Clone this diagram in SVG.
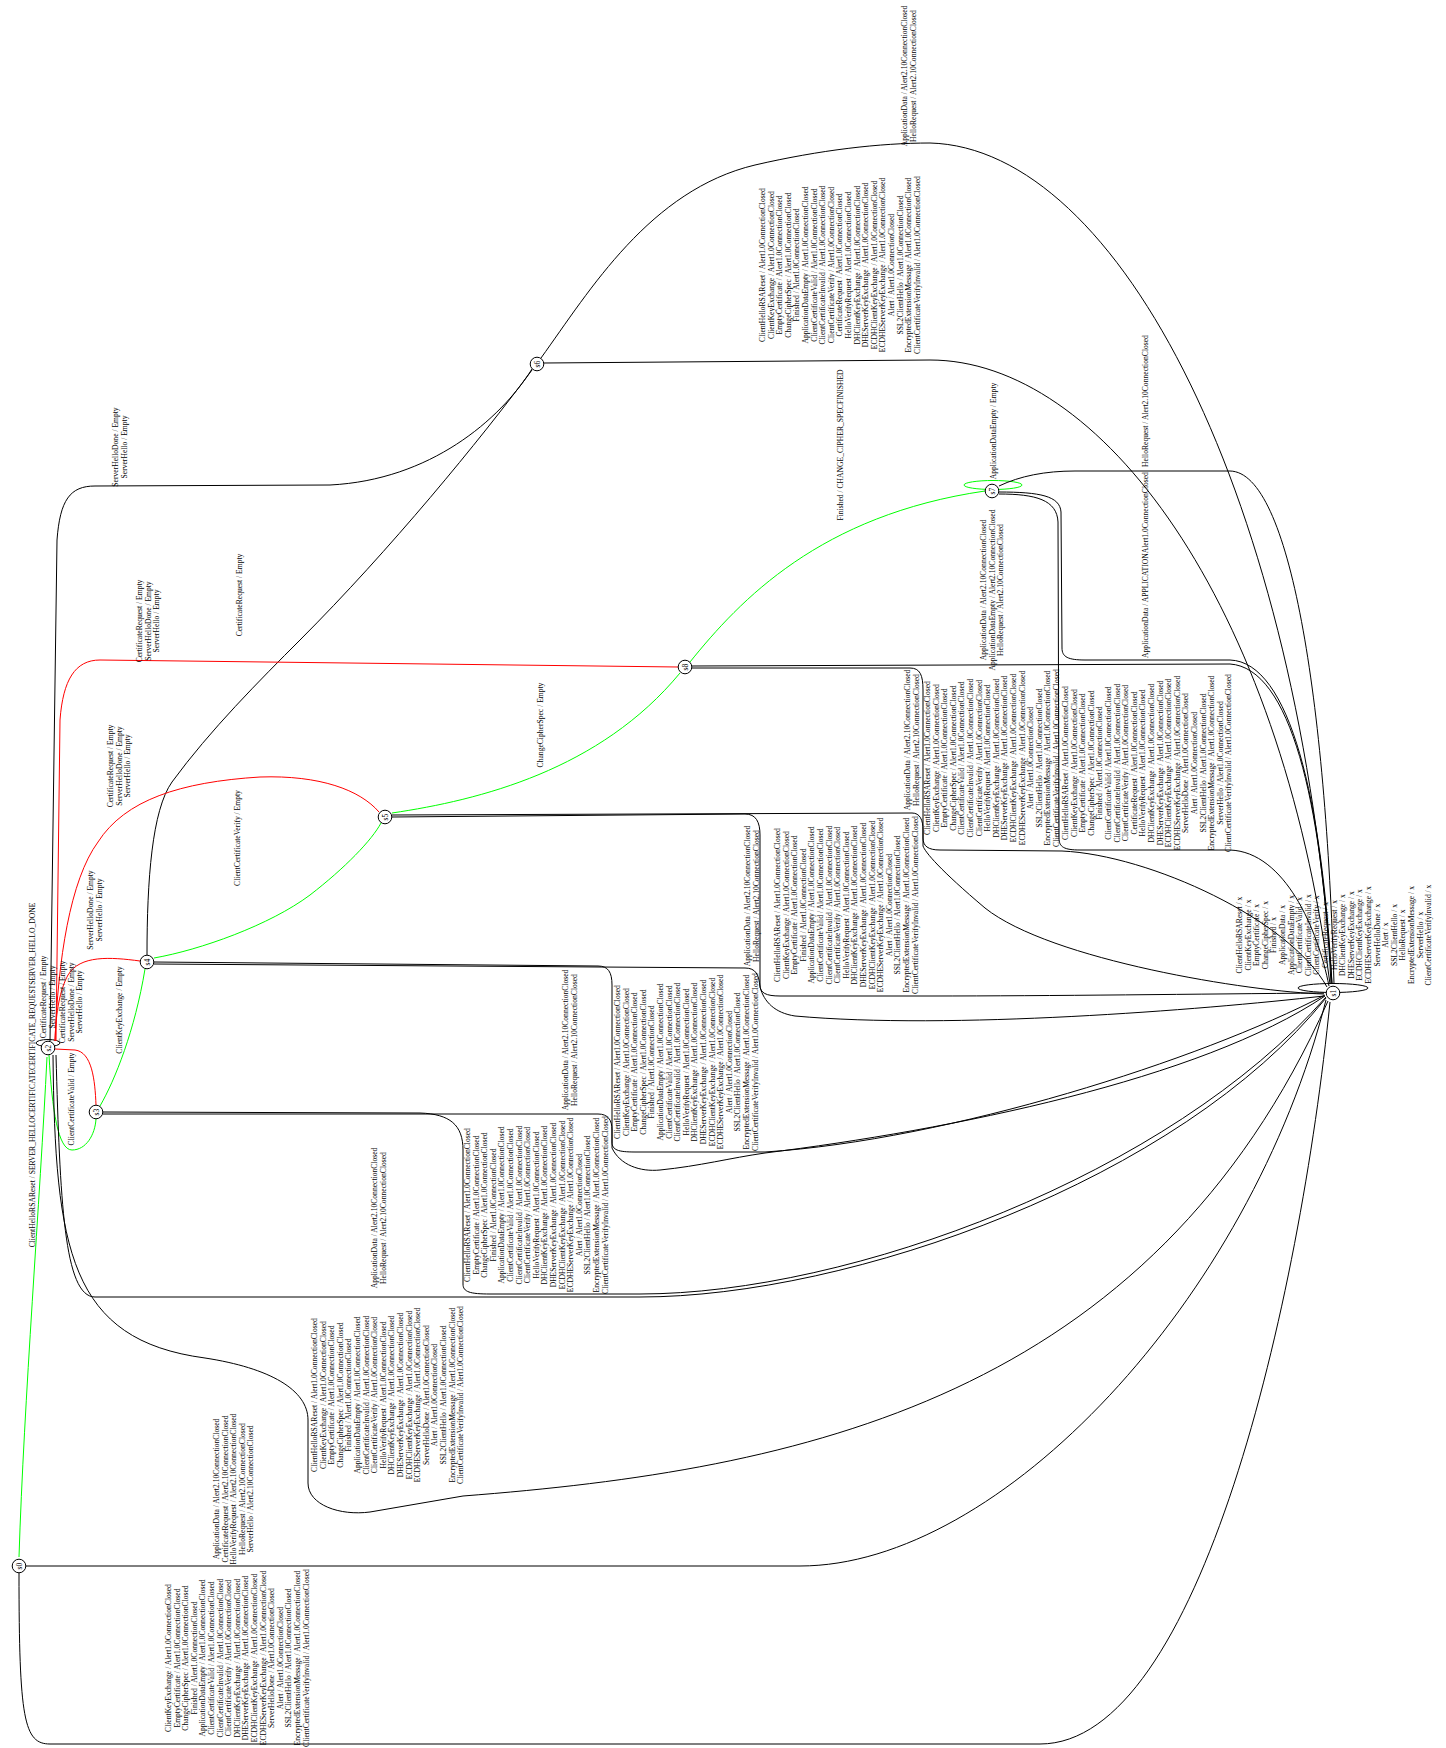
<svg xmlns="http://www.w3.org/2000/svg" width="1446" height="1748" viewBox="0 0 1446 1748">
<style>
.e{fill:none;stroke:#000;stroke-width:1}
.g{stroke:#00ff00}
.r{stroke:#ff0000}
.t{font-family:"Liberation Serif","Times New Roman",serif;font-size:7.6px;text-anchor:middle;fill:#000}
.n circle{fill:#fff;stroke:#000;stroke-width:1}
</style>
<rect width="1446" height="1748" fill="#fff"/>
<g id="edges">
<!-- s0 -->
<path class="e g" d="M19,1557 C24,1400 40,1200 47,1057"/>
<path class="e" d="M26,1566 L800,1566 C1000,1566 1250,1300 1326,1000"/>
<path class="e" d="M19,1573 C19,1720 24,1744 50,1744 L1040,1744 C1200,1744 1300,1300 1330,1002"/>
<!-- s2 -->
<ellipse class="e" cx="48" cy="1043" rx="12" ry="3.5"/>
<path class="e g" d="M49,1055 C52,1110 58,1150 72,1150 C86,1150 95,1135 96,1119"/>
<path class="e" d="M56,1055 C60,1200 64,1297 95,1297 L640,1297 C850,1297 1180,1180 1326,998"/>
<path class="e" d="M53,1055 C55,1250 70,1340 205,1358 C270,1368 308,1390 308,1420 L308,1483 C308,1505 340,1516 370,1512 L463,1496 C800,1470 1150,1400 1328,1001"/>
<!-- s3 -->
<path class="e r" d="M96,1105 C95,1080 92,1052 75,1050 L55,1049"/>
<path class="e g" d="M100,1106 C115,1080 135,1030 145,969"/>
<path class="e" d="M103,1112 L420,1113 C450,1114 463,1125 463,1150 L463,1284 C463,1292 470,1294 490,1294 L640,1294 C850,1294 1170,1175 1326,997"/>
<path class="e" d="M103,1114 L598,1114 C608,1114 612,1120 612,1130 L612,1148 C620,1165 640,1172 660,1170 C700,1166 730,1158 765,1153 C950,1130 1200,1080 1325,996"/>
<!-- s4 -->
<path class="e r" d="M140,961 C110,957 80,955 68,975 C60,990 56,1010 55,1041"/>
<path class="e g" d="M154,958 C200,950 270,925 310,895 C345,868 372,840 381,823"/>
<path class="e" d="M147,955 C147,880 152,810 172,782 C210,730 260,680 300,640 C390,550 480,440 532,370"/>
<path class="e" d="M154,962 L598,966 C608,966 612,972 612,985 L612,1142 C612,1150 618,1152 635,1152 L765,1152 C950,1140 1200,1060 1325,995"/>
<path class="e" d="M154,964 L745,968 C756,968 759,975 760,987 C764,1002 775,1013 795,1016 C950,1030 1200,1010 1324,996"/>
<!-- s5 -->
<path class="e r" d="M379,812 C360,790 320,775 260,777 C180,782 125,800 98,842 C70,880 58,960 55,1041"/>
<path class="e g" d="M392,813 C480,800 600,770 680,673"/>
<path class="e" d="M392,817 L745,814 C756,814 760,822 760,835 L760,985 C760,993 766,996 780,996 L930,996 C1050,996 1200,994 1324,993"/>
<path class="e" d="M392,815 L912,813 C920,813 923,820 923,830 L923,846 C925,852 940,870 985,908 C1050,960 1250,992 1324,994"/>
<!-- s8 -->
<path class="e r" d="M678,667 L100,660 C75,660 63,680 60,720 L56,1041"/>
<path class="e g" d="M690,662 C740,600 820,515 985,491"/>
<path class="e" d="M692,668 L910,668 C920,668 923,675 923,690 L923,838 C923,846 928,850 940,850 L1062,851 C1150,855 1290,920 1327,987"/>
<path class="e" d="M692,666 L1230,664 C1290,668 1322,800 1331,984"/>
<!-- s7 -->
<ellipse class="e g" cx="993" cy="485" rx="29" ry="4.5"/>
<path class="e" d="M999,486 C1020,476 1045,471 1075,471 L1230,471 C1290,472 1326,700 1334,984"/>
<path class="e" d="M999,492 C1040,492 1060,496 1061,512 L1062,648 C1062,657 1068,660 1085,660 L1230,660 C1290,662 1322,800 1332,984"/>
<path class="e" d="M999,494 C1036,494 1057,500 1058,522 L1059,838 C1059,847 1064,850 1080,850 L1230,850 C1285,852 1318,930 1329,986"/>
<!-- s6 -->
<path class="e" d="M532,369 C500,420 430,480 330,485 L95,486 C70,486 60,500 57,540 L50,1041"/>
<path class="e" d="M544,363 L930,360 C1100,360 1280,600 1330,984"/>
<path class="e" d="M541,358 C590,290 650,190 755,165 C820,150 880,143 930,143 C1120,148 1300,500 1332,984"/>
<!-- s1 -->
<ellipse class="e" cx="1333" cy="988" rx="35" ry="4.5"/>
</g>
<g id="labels">
<text class="t" transform="translate(35,1075) rotate(-90)">ClientHelloRSAReset / SERVER_HELLOCERTIFICATECERTIFICATE_REQUESTSERVER_HELLO_DONE</text>
<text class="t" transform="translate(219,1489) rotate(-90)"><tspan x="0">ApplicationData / Alert2.10ConnectionClosed</tspan><tspan x="0" dy="8.6">CertificateRequest / Alert2.10ConnectionClosed</tspan><tspan x="0" dy="8.6">HelloVerifyRequest / Alert2.10ConnectionClosed</tspan><tspan x="0" dy="8.6">HelloRequest / Alert2.10ConnectionClosed</tspan><tspan x="0" dy="8.6">ServerHello / Alert2.10ConnectionClosed</tspan></text>
<text class="t" transform="translate(171,1658) rotate(-90)"><tspan x="0">ClientKeyExchange / Alert1.0ConnectionClosed</tspan><tspan x="0" dy="8.6">EmptyCertificate / Alert1.0ConnectionClosed</tspan><tspan x="0" dy="8.6">ChangeCipherSpec / Alert1.0ConnectionClosed</tspan><tspan x="0" dy="8.6">Finished / Alert1.0ConnectionClosed</tspan><tspan x="0" dy="8.6">ApplicationDataEmpty / Alert1.0ConnectionClosed</tspan><tspan x="0" dy="8.6">ClientCertificateValid / Alert1.0ConnectionClosed</tspan><tspan x="0" dy="8.6">ClientCertificateInvalid / Alert1.0ConnectionClosed</tspan><tspan x="0" dy="8.6">ClientCertificateVerify / Alert1.0ConnectionClosed</tspan><tspan x="0" dy="8.6">DHClientKeyExchange / Alert1.0ConnectionClosed</tspan><tspan x="0" dy="8.6">DHEServerKeyExchange / Alert1.0ConnectionClosed</tspan><tspan x="0" dy="8.6">ECDHClientKeyExchange / Alert1.0ConnectionClosed</tspan><tspan x="0" dy="8.6">ECDHEServerKeyExchange / Alert1.0ConnectionClosed</tspan><tspan x="0" dy="8.6">ServerHelloDone / Alert1.0ConnectionClosed</tspan><tspan x="0" dy="8.6">Alert / Alert1.0ConnectionClosed</tspan><tspan x="0" dy="8.6">SSL2ClientHello / Alert1.0ConnectionClosed</tspan><tspan x="0" dy="8.6">EncryptedExtensionMessage / Alert1.0ConnectionClosed</tspan><tspan x="0" dy="8.6">ClientCertificateVerifyInvalid / Alert1.0ConnectionClosed</tspan></text>
<text class="t" transform="translate(46,997) rotate(-90)"><tspan x="0">CertificateRequest / Empty</tspan><tspan x="0" dy="8.6">ServerHello / Empty</tspan></text>
<text class="t" transform="translate(74,1099) rotate(-90)">ClientCertificateValid / Empty</text>
<text class="t" transform="translate(65,1002) rotate(-90)"><tspan x="0">CertificateRequest / Empty</tspan><tspan x="0" dy="8.6">ServerHelloDone / Empty</tspan><tspan x="0" dy="8.6">ServerHello / Empty</tspan></text>
<text class="t" transform="translate(93,910) rotate(-90)"><tspan x="0">ServerHelloDone / Empty</tspan><tspan x="0" dy="8.6">ServerHello / Empty</tspan></text>
<text class="t" transform="translate(122,1010) rotate(-90)">ClientKeyExchange / Empty</text>
<text class="t" transform="translate(113,766) rotate(-90)"><tspan x="0">CertificateRequest / Empty</tspan><tspan x="0" dy="8.6">ServerHelloDone / Empty</tspan><tspan x="0" dy="8.6">ServerHello / Empty</tspan></text>
<text class="t" transform="translate(242,595) rotate(-90)">CertificateRequest / Empty</text>
<text class="t" transform="translate(240,838) rotate(-90)">ClientCertificateVerify / Empty</text>
<text class="t" transform="translate(142,621) rotate(-90)"><tspan x="0">CertificateRequest / Empty</tspan><tspan x="0" dy="8.6">ServerHelloDone / Empty</tspan><tspan x="0" dy="8.6">ServerHello / Empty</tspan></text>
<text class="t" transform="translate(118,447) rotate(-90)"><tspan x="0">ServerHelloDone / Empty</tspan><tspan x="0" dy="8.6">ServerHello / Empty</tspan></text>
<text class="t" transform="translate(543,725) rotate(-90)">ChangeCipherSpec / Empty</text>
<text class="t" transform="translate(843,445) rotate(-90)">Finished / CHANGE_CIPHER_SPECFINISHED</text>
<text class="t" transform="translate(996,431) rotate(-90)">ApplicationDataEmpty / Empty</text>
<text class="t" transform="translate(377,1218) rotate(-90)"><tspan x="0">ApplicationData / Alert2.10ConnectionClosed</tspan><tspan x="0" dy="8.6">HelloRequest / Alert2.10ConnectionClosed</tspan></text>
<text class="t" transform="translate(568,1040) rotate(-90)"><tspan x="0">ApplicationData / Alert2.10ConnectionClosed</tspan><tspan x="0" dy="8.6">HelloRequest / Alert2.10ConnectionClosed</tspan></text>
<text class="t" transform="translate(750,896) rotate(-90)"><tspan x="0">ApplicationData / Alert2.10ConnectionClosed</tspan><tspan x="0" dy="8.6">HelloRequest / Alert2.10ConnectionClosed</tspan></text>
<text class="t" transform="translate(910,740) rotate(-90)"><tspan x="0">ApplicationData / Alert2.10ConnectionClosed</tspan><tspan x="0" dy="8.6">HelloRequest / Alert2.10ConnectionClosed</tspan></text>
<text class="t" transform="translate(907,76) rotate(-90)"><tspan x="0">ApplicationData / Alert2.10ConnectionClosed</tspan><tspan x="0" dy="8.6">HelloRequest / Alert2.10ConnectionClosed</tspan></text>
<text class="t" transform="translate(986,590) rotate(-90)"><tspan x="0">ApplicationData / Alert2.10ConnectionClosed</tspan><tspan x="0" dy="8.6">ApplicationDataEmpty / Alert2.10ConnectionClosed</tspan><tspan x="0" dy="8.6">HelloRequest / Alert2.10ConnectionClosed</tspan></text>
<text class="t" transform="translate(1148,565) rotate(-90)">ApplicationData / APPLICATIONAlert1.0ConnectionClosed</text>
<text class="t" transform="translate(1148,401) rotate(-90)">HelloRequest / Alert2.10ConnectionClosed</text>
<text class="t" transform="translate(317,1395) rotate(-90)"><tspan x="0">ClientHelloRSAReset / Alert1.0ConnectionClosed</tspan><tspan x="0" dy="8.6">ClientKeyExchange / Alert1.0ConnectionClosed</tspan><tspan x="0" dy="8.6">EmptyCertificate / Alert1.0ConnectionClosed</tspan><tspan x="0" dy="8.6">ChangeCipherSpec / Alert1.0ConnectionClosed</tspan><tspan x="0" dy="8.6">Finished / Alert1.0ConnectionClosed</tspan><tspan x="0" dy="8.6">ApplicationDataEmpty / Alert1.0ConnectionClosed</tspan><tspan x="0" dy="8.6">ClientCertificateInvalid / Alert1.0ConnectionClosed</tspan><tspan x="0" dy="8.6">ClientCertificateVerify / Alert1.0ConnectionClosed</tspan><tspan x="0" dy="8.6">HelloVerifyRequest / Alert1.0ConnectionClosed</tspan><tspan x="0" dy="8.6">DHClientKeyExchange / Alert1.0ConnectionClosed</tspan><tspan x="0" dy="8.6">DHEServerKeyExchange / Alert1.0ConnectionClosed</tspan><tspan x="0" dy="8.6">ECDHClientKeyExchange / Alert1.0ConnectionClosed</tspan><tspan x="0" dy="8.6">ECDHEServerKeyExchange / Alert1.0ConnectionClosed</tspan><tspan x="0" dy="8.6">ServerHelloDone / Alert1.0ConnectionClosed</tspan><tspan x="0" dy="8.6">Alert / Alert1.0ConnectionClosed</tspan><tspan x="0" dy="8.6">SSL2ClientHello / Alert1.0ConnectionClosed</tspan><tspan x="0" dy="8.6">EncryptedExtensionMessage / Alert1.0ConnectionClosed</tspan><tspan x="0" dy="8.6">ClientCertificateVerifyInvalid / Alert1.0ConnectionClosed</tspan></text>
<text class="t" transform="translate(470,1205) rotate(-90)"><tspan x="0">ClientHelloRSAReset / Alert1.0ConnectionClosed</tspan><tspan x="0" dy="8.6">EmptyCertificate / Alert1.0ConnectionClosed</tspan><tspan x="0" dy="8.6">ChangeCipherSpec / Alert1.0ConnectionClosed</tspan><tspan x="0" dy="8.6">Finished / Alert1.0ConnectionClosed</tspan><tspan x="0" dy="8.6">ApplicationDataEmpty / Alert1.0ConnectionClosed</tspan><tspan x="0" dy="8.6">ClientCertificateValid / Alert1.0ConnectionClosed</tspan><tspan x="0" dy="8.6">ClientCertificateInvalid / Alert1.0ConnectionClosed</tspan><tspan x="0" dy="8.6">ClientCertificateVerify / Alert1.0ConnectionClosed</tspan><tspan x="0" dy="8.6">HelloVerifyRequest / Alert1.0ConnectionClosed</tspan><tspan x="0" dy="8.6">DHClientKeyExchange / Alert1.0ConnectionClosed</tspan><tspan x="0" dy="8.6">DHEServerKeyExchange / Alert1.0ConnectionClosed</tspan><tspan x="0" dy="8.6">ECDHClientKeyExchange / Alert1.0ConnectionClosed</tspan><tspan x="0" dy="8.6">ECDHEServerKeyExchange / Alert1.0ConnectionClosed</tspan><tspan x="0" dy="8.6">Alert / Alert1.0ConnectionClosed</tspan><tspan x="0" dy="8.6">SSL2ClientHello / Alert1.0ConnectionClosed</tspan><tspan x="0" dy="8.6">EncryptedExtensionMessage / Alert1.0ConnectionClosed</tspan><tspan x="0" dy="8.6">ClientCertificateVerifyInvalid / Alert1.0ConnectionClosed</tspan></text>
<text class="t" transform="translate(620,1062) rotate(-90)"><tspan x="0">ClientHelloRSAReset / Alert1.0ConnectionClosed</tspan><tspan x="0" dy="8.6">ClientKeyExchange / Alert1.0ConnectionClosed</tspan><tspan x="0" dy="8.6">EmptyCertificate / Alert1.0ConnectionClosed</tspan><tspan x="0" dy="8.6">ChangeCipherSpec / Alert1.0ConnectionClosed</tspan><tspan x="0" dy="8.6">Finished / Alert1.0ConnectionClosed</tspan><tspan x="0" dy="8.6">ApplicationDataEmpty / Alert1.0ConnectionClosed</tspan><tspan x="0" dy="8.6">ClientCertificateValid / Alert1.0ConnectionClosed</tspan><tspan x="0" dy="8.6">ClientCertificateInvalid / Alert1.0ConnectionClosed</tspan><tspan x="0" dy="8.6">HelloVerifyRequest / Alert1.0ConnectionClosed</tspan><tspan x="0" dy="8.6">DHClientKeyExchange / Alert1.0ConnectionClosed</tspan><tspan x="0" dy="8.6">DHEServerKeyExchange / Alert1.0ConnectionClosed</tspan><tspan x="0" dy="8.6">ECDHClientKeyExchange / Alert1.0ConnectionClosed</tspan><tspan x="0" dy="8.6">ECDHEServerKeyExchange / Alert1.0ConnectionClosed</tspan><tspan x="0" dy="8.6">Alert / Alert1.0ConnectionClosed</tspan><tspan x="0" dy="8.6">SSL2ClientHello / Alert1.0ConnectionClosed</tspan><tspan x="0" dy="8.6">EncryptedExtensionMessage / Alert1.0ConnectionClosed</tspan><tspan x="0" dy="8.6">ClientCertificateVerifyInvalid / Alert1.0ConnectionClosed</tspan></text>
<text class="t" transform="translate(780,905) rotate(-90)"><tspan x="0">ClientHelloRSAReset / Alert1.0ConnectionClosed</tspan><tspan x="0" dy="8.6">ClientKeyExchange / Alert1.0ConnectionClosed</tspan><tspan x="0" dy="8.6">EmptyCertificate / Alert1.0ConnectionClosed</tspan><tspan x="0" dy="8.6">Finished / Alert1.0ConnectionClosed</tspan><tspan x="0" dy="8.6">ApplicationDataEmpty / Alert1.0ConnectionClosed</tspan><tspan x="0" dy="8.6">ClientCertificateValid / Alert1.0ConnectionClosed</tspan><tspan x="0" dy="8.6">ClientCertificateInvalid / Alert1.0ConnectionClosed</tspan><tspan x="0" dy="8.6">ClientCertificateVerify / Alert1.0ConnectionClosed</tspan><tspan x="0" dy="8.6">HelloVerifyRequest / Alert1.0ConnectionClosed</tspan><tspan x="0" dy="8.6">DHClientKeyExchange / Alert1.0ConnectionClosed</tspan><tspan x="0" dy="8.6">DHEServerKeyExchange / Alert1.0ConnectionClosed</tspan><tspan x="0" dy="8.6">ECDHClientKeyExchange / Alert1.0ConnectionClosed</tspan><tspan x="0" dy="8.6">ECDHEServerKeyExchange / Alert1.0ConnectionClosed</tspan><tspan x="0" dy="8.6">Alert / Alert1.0ConnectionClosed</tspan><tspan x="0" dy="8.6">SSL2ClientHello / Alert1.0ConnectionClosed</tspan><tspan x="0" dy="8.6">EncryptedExtensionMessage / Alert1.0ConnectionClosed</tspan><tspan x="0" dy="8.6">ClientCertificateVerifyInvalid / Alert1.0ConnectionClosed</tspan></text>
<text class="t" transform="translate(930,758) rotate(-90)"><tspan x="0">ClientHelloRSAReset / Alert1.0ConnectionClosed</tspan><tspan x="0" dy="8.6">ClientKeyExchange / Alert1.0ConnectionClosed</tspan><tspan x="0" dy="8.6">EmptyCertificate / Alert1.0ConnectionClosed</tspan><tspan x="0" dy="8.6">ChangeCipherSpec / Alert1.0ConnectionClosed</tspan><tspan x="0" dy="8.6">ClientCertificateValid / Alert1.0ConnectionClosed</tspan><tspan x="0" dy="8.6">ClientCertificateInvalid / Alert1.0ConnectionClosed</tspan><tspan x="0" dy="8.6">ClientCertificateVerify / Alert1.0ConnectionClosed</tspan><tspan x="0" dy="8.6">HelloVerifyRequest / Alert1.0ConnectionClosed</tspan><tspan x="0" dy="8.6">DHClientKeyExchange / Alert1.0ConnectionClosed</tspan><tspan x="0" dy="8.6">DHEServerKeyExchange / Alert1.0ConnectionClosed</tspan><tspan x="0" dy="8.6">ECDHClientKeyExchange / Alert1.0ConnectionClosed</tspan><tspan x="0" dy="8.6">ECDHEServerKeyExchange / Alert1.0ConnectionClosed</tspan><tspan x="0" dy="8.6">Alert / Alert1.0ConnectionClosed</tspan><tspan x="0" dy="8.6">SSL2ClientHello / Alert1.0ConnectionClosed</tspan><tspan x="0" dy="8.6">EncryptedExtensionMessage / Alert1.0ConnectionClosed</tspan><tspan x="0" dy="8.6">ClientCertificateVerifyInvalid / Alert1.0ConnectionClosed</tspan></text>
<text class="t" transform="translate(1068,763) rotate(-90)"><tspan x="0">ClientHelloRSAReset / Alert1.0ConnectionClosed</tspan><tspan x="0" dy="8.6">ClientKeyExchange / Alert1.0ConnectionClosed</tspan><tspan x="0" dy="8.6">EmptyCertificate / Alert1.0ConnectionClosed</tspan><tspan x="0" dy="8.6">ChangeCipherSpec / Alert1.0ConnectionClosed</tspan><tspan x="0" dy="8.6">Finished / Alert1.0ConnectionClosed</tspan><tspan x="0" dy="8.6">ClientCertificateValid / Alert1.0ConnectionClosed</tspan><tspan x="0" dy="8.6">ClientCertificateInvalid / Alert1.0ConnectionClosed</tspan><tspan x="0" dy="8.6">ClientCertificateVerify / Alert1.0ConnectionClosed</tspan><tspan x="0" dy="8.6">CertificateRequest / Alert1.0ConnectionClosed</tspan><tspan x="0" dy="8.6">HelloVerifyRequest / Alert1.0ConnectionClosed</tspan><tspan x="0" dy="8.6">DHClientKeyExchange / Alert1.0ConnectionClosed</tspan><tspan x="0" dy="8.6">DHEServerKeyExchange / Alert1.0ConnectionClosed</tspan><tspan x="0" dy="8.6">ECDHClientKeyExchange / Alert1.0ConnectionClosed</tspan><tspan x="0" dy="8.6">ECDHEServerKeyExchange / Alert1.0ConnectionClosed</tspan><tspan x="0" dy="8.6">ServerHelloDone / Alert1.0ConnectionClosed</tspan><tspan x="0" dy="8.6">Alert / Alert1.0ConnectionClosed</tspan><tspan x="0" dy="8.6">SSL2ClientHello / Alert1.0ConnectionClosed</tspan><tspan x="0" dy="8.6">EncryptedExtensionMessage / Alert1.0ConnectionClosed</tspan><tspan x="0" dy="8.6">ServerHello / Alert1.0ConnectionClosed</tspan><tspan x="0" dy="8.6">ClientCertificateVerifyInvalid / Alert1.0ConnectionClosed</tspan></text>
<text class="t" transform="translate(765,265) rotate(-90)"><tspan x="0">ClientHelloRSAReset / Alert1.0ConnectionClosed</tspan><tspan x="0" dy="8.6">ClientKeyExchange / Alert1.0ConnectionClosed</tspan><tspan x="0" dy="8.6">EmptyCertificate / Alert1.0ConnectionClosed</tspan><tspan x="0" dy="8.6">ChangeCipherSpec / Alert1.0ConnectionClosed</tspan><tspan x="0" dy="8.6">Finished / Alert1.0ConnectionClosed</tspan><tspan x="0" dy="8.6">ApplicationDataEmpty / Alert1.0ConnectionClosed</tspan><tspan x="0" dy="8.6">ClientCertificateValid / Alert1.0ConnectionClosed</tspan><tspan x="0" dy="8.6">ClientCertificateInvalid / Alert1.0ConnectionClosed</tspan><tspan x="0" dy="8.6">ClientCertificateVerify / Alert1.0ConnectionClosed</tspan><tspan x="0" dy="8.6">CertificateRequest / Alert1.0ConnectionClosed</tspan><tspan x="0" dy="8.6">HelloVerifyRequest / Alert1.0ConnectionClosed</tspan><tspan x="0" dy="8.6">DHClientKeyExchange / Alert1.0ConnectionClosed</tspan><tspan x="0" dy="8.6">DHEServerKeyExchange / Alert1.0ConnectionClosed</tspan><tspan x="0" dy="8.6">ECDHClientKeyExchange / Alert1.0ConnectionClosed</tspan><tspan x="0" dy="8.6">ECDHEServerKeyExchange / Alert1.0ConnectionClosed</tspan><tspan x="0" dy="8.6">Alert / Alert1.0ConnectionClosed</tspan><tspan x="0" dy="8.6">SSL2ClientHello / Alert1.0ConnectionClosed</tspan><tspan x="0" dy="8.6">EncryptedExtensionMessage / Alert1.0ConnectionClosed</tspan><tspan x="0" dy="8.6">ClientCertificateVerifyInvalid / Alert1.0ConnectionClosed</tspan></text>
<text class="t" transform="translate(1242,935) rotate(-90)"><tspan x="0">ClientHelloRSAReset / x</tspan><tspan x="0" dy="8.6">ClientKeyExchange / x</tspan><tspan x="0" dy="8.6">EmptyCertificate / x</tspan><tspan x="0" dy="8.6">ChangeCipherSpec / x</tspan><tspan x="0" dy="8.6">Finished / x</tspan><tspan x="0" dy="8.6">ApplicationData / x</tspan><tspan x="0" dy="8.6">ApplicationDataEmpty / x</tspan><tspan x="0" dy="8.6">ClientCertificateValid / x</tspan><tspan x="0" dy="8.6">ClientCertificateInvalid / x</tspan><tspan x="0" dy="8.6">ClientCertificateVerify / x</tspan><tspan x="0" dy="8.6">CertificateRequest / x</tspan><tspan x="0" dy="8.6">HelloVerifyRequest / x</tspan><tspan x="0" dy="8.6">DHClientKeyExchange / x</tspan><tspan x="0" dy="8.6">DHEServerKeyExchange / x</tspan><tspan x="0" dy="8.6">ECDHClientKeyExchange / x</tspan><tspan x="0" dy="8.6">ECDHEServerKeyExchange / x</tspan><tspan x="0" dy="8.6">ServerHelloDone / x</tspan><tspan x="0" dy="8.6">Alert / x</tspan><tspan x="0" dy="8.6">SSL2ClientHello / x</tspan><tspan x="0" dy="8.6">HelloRequest / x</tspan><tspan x="0" dy="8.6">EncryptedExtensionMessage / x</tspan><tspan x="0" dy="8.6">ServerHello / x</tspan><tspan x="0" dy="8.6">ClientCertificateVerifyInvalid / x</tspan></text>
</g>
<g id="s0" class="n"><circle cx="19" cy="1566" r="6.8"/><text class="t" transform="translate(21.6,1566) rotate(-90)">s0</text></g>
<g id="s1" class="n"><circle cx="1333" cy="993" r="6.8"/><text class="t" transform="translate(1335.6,993) rotate(-90)">s1</text></g>
<g id="s2" class="n"><circle cx="48" cy="1048" r="6.8"/><text class="t" transform="translate(50.6,1048) rotate(-90)">s2</text></g>
<g id="s3" class="n"><circle cx="96" cy="1112" r="6.8"/><text class="t" transform="translate(98.6,1112) rotate(-90)">s3</text></g>
<g id="s4" class="n"><circle cx="147" cy="962" r="6.8"/><text class="t" transform="translate(149.6,962) rotate(-90)">s4</text></g>
<g id="s5" class="n"><circle cx="385" cy="817" r="6.8"/><text class="t" transform="translate(387.6,817) rotate(-90)">s5</text></g>
<g id="s6" class="n"><circle cx="537" cy="364" r="6.8"/><text class="t" transform="translate(539.6,364) rotate(-90)">s6</text></g>
<g id="s7" class="n"><circle cx="992" cy="491" r="6.8"/><text class="t" transform="translate(994.6,491) rotate(-90)">s7</text></g>
<g id="s8" class="n"><circle cx="685" cy="667" r="6.8"/><text class="t" transform="translate(687.6,667) rotate(-90)">s8</text></g>
</svg>
